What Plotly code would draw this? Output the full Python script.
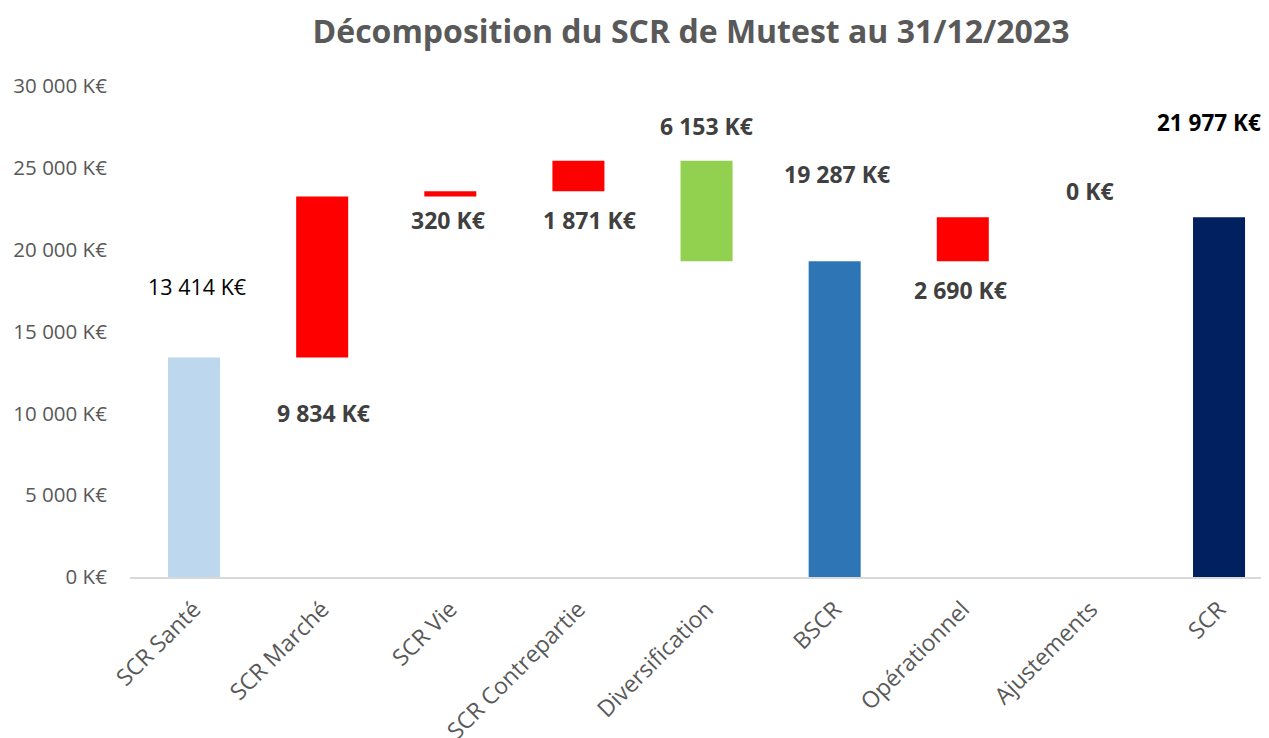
import plotly.graph_objects as go

# ---- data ----
categories = ["SCR Santé", "SCR Marché", "SCR Vie", "SCR Contrepartie", "Diversification",
              "BSCR", "Opérationnel", "Ajustements", "SCR"]
values = [13414, 9834, 320, 1871, -6153, 19287, 2690, 0, 21977]
measures = ["absolute", "relative", "relative", "relative", "relative",
            "total", "relative", "relative", "total"]
label_texts = ["13 414 K€", "9 834 K€", "320 K€", "1 871 K€", "6 153 K€",
               "19 287 K€", "2 690 K€", "0 K€", "21 977 K€"]
y_tick_values = [0, 5000, 10000, 15000, 20000, 25000, 30000]
y_tick_labels = ["0 K€", "5 000 K€", "10 000 K€", "15 000 K€", "20 000 K€", "25 000 K€", "30 000 K€"]

# ---- styles / positions ----
bar_colors = ["#BDD7EE", "#FF0000", "#FF0000", "#FF0000", "#92D050",
              "#2E75B6", "#FF0000", "#FF0000", "#002060"]
label_y = [17780, 10020, 21810, 21810, 27555, 24622, 17535, 23584, 27800]
label_xshift = [3, 1, -2, 11, 0, 2, -2, -1, -10]
label_sizes = [21.5, 23, 23, 23, 23, 23, 23, 23, 22.5]
label_colors = ["#000000", "#404040", "#404040", "#404040", "#404040",
                "#404040", "#404040", "#404040", "#000000"]
label_bold = [False, True, True, True, True, True, True, True, True]

# compute waterfall bases
bases, lengths = [], []
running = 0
for v, m in zip(values, measures):
    if m in ("absolute", "total"):
        bases.append(0)
        lengths.append(v)
        running = v
    else:
        if v >= 0:
            bases.append(running)
            lengths.append(v)
        else:
            bases.append(running + v)
            lengths.append(-v)
        running += v

fig = go.Figure()
fig.add_trace(go.Bar(
    x=categories, y=lengths, base=bases,
    marker=dict(color=bar_colors, line=dict(width=0)),
    width=0.406, hoverinfo="skip", showlegend=False,
))

for i, cat in enumerate(categories):
    txt = label_texts[i]
    if label_bold[i]:
        txt = "<b>" + txt + "</b>"
    fig.add_annotation(
        x=cat, y=label_y[i], text=txt, showarrow=False,
        xshift=label_xshift[i],
        font=dict(family="Open Sans", size=label_sizes[i], color=label_colors[i]),
        xanchor="center", yanchor="middle",
    )

# page body has an 8px margin: figure is sized to fit the 1269x738 window
W, H = 1261, 730
fig.update_layout(
    width=W, height=H,
    margin=dict(l=122, r=0, t=78, b=161),
    paper_bgcolor="white", plot_bgcolor="white",
    font=dict(family="Open Sans", color="#595959"),
    title=dict(
        text="<b>Décomposition du SCR de Mutest au 31/12/2023</b>",
        x=683 / W, xref="container", xanchor="center",
        y=1 - 24 / H, yref="container", yanchor="middle",
        font=dict(family="Open Sans", size=32, color="#595959"),
    ),
)
fig.update_xaxes(
    range=[-0.5, 8.39], showline=True, linecolor="#D9D9D9", linewidth=1.5,
    tickangle=-45, tickfont=dict(family="Open Sans", size=23, color="#595959"),
    showgrid=False, ticks="outside", ticklen=8, tickcolor="rgba(0,0,0,0)",
    automargin=False,
)
fig.update_yaxes(
    range=[0, 30000], showgrid=False, zeroline=False, showline=False,
    tickvals=y_tick_values, ticktext=y_tick_labels,
    tickfont=dict(family="Open Sans", size=20.5, color="#595959"),
    ticks="outside", ticklen=18, tickcolor="rgba(0,0,0,0)",
    automargin=False,
)

fig.write_html("out.html")
